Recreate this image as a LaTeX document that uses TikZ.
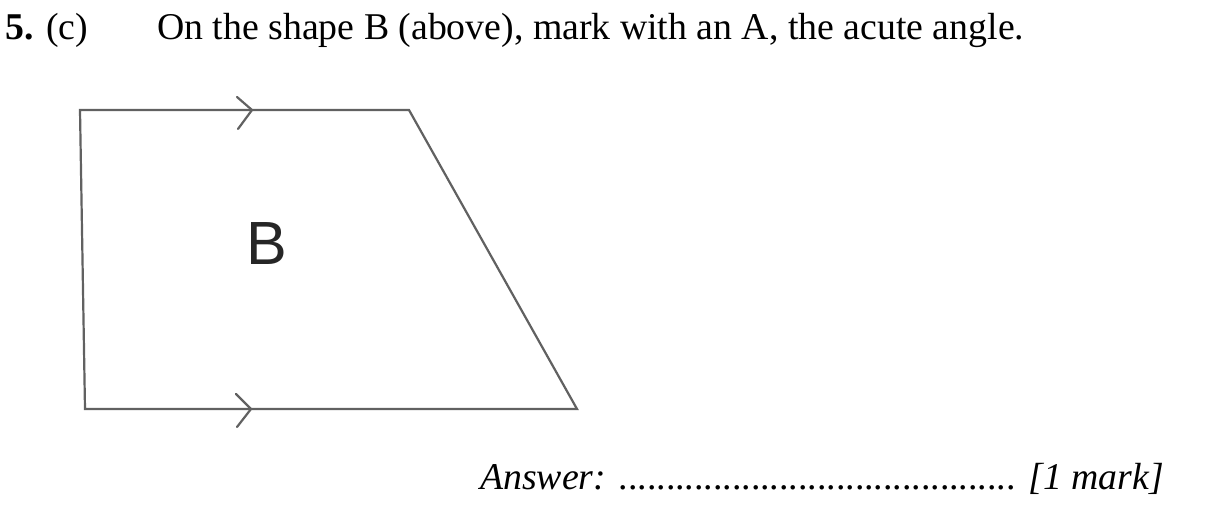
\documentclass[tikz,border=0pt]{standalone}
\usepackage{fontspec}
\setmainfont{Liberation Serif}
\newfontfamily\labelfont{Liberation Sans}
\begin{document}
\begin{tikzpicture}[x=1pt,y=-1pt,
  edge/.style={draw=black!62,line width=2.2pt,line join=miter},
  tick/.style={draw=black!62,line width=2.2pt,line cap=round},
  txt/.style={inner sep=0pt,anchor=base west,font=\fontsize{37.8}{42}\selectfont}]
\useasboundingbox (0,0) rectangle (1214,529);
\fill[white] (0,0) rectangle (1214,529);
% title
\node[txt] (num) at (5,40) {\textbf{5.} (c)};
\node[txt] (q) at (157,40) {On the shape B (above), mark with an A, the acute angle.};
% shape
\coordinate (tl) at (80,110);
\coordinate (tr) at (409,110);
\coordinate (br) at (577,409);
\coordinate (bl) at (85,409);
\draw[edge] (tl) -- (tr) -- (br) -- (bl) -- cycle;
% parallel marks
\coordinate (t1) at (237,97);
\coordinate (t2) at (252,110);
\coordinate (t3) at (238,129);
\draw[tick] (t1) -- (t2) -- (t3);
\coordinate (b1) at (236,394);
\coordinate (b2) at (251,409);
\coordinate (b3) at (237,427);
\draw[tick] (b1) -- (b2) -- (b3);
\node[inner sep=0pt,text=black!85,font=\labelfont\fontsize{61}{61}\selectfont] (B) at (267,244) {B};
% answer
\node[txt] (ans) at (480,489) {\textit{Answer:} .......................................... \textit{[1 mark]}};
\end{tikzpicture}
\end{document}
